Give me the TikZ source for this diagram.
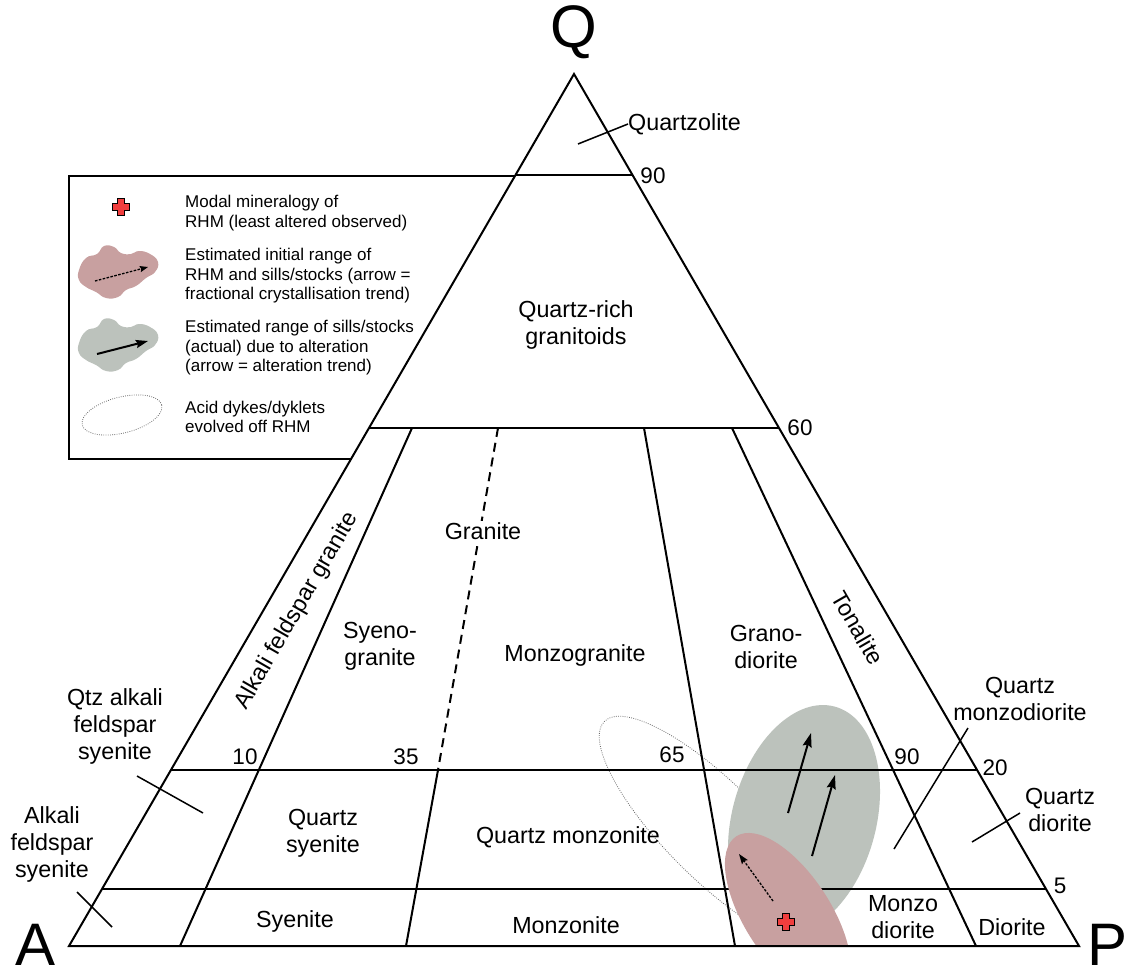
\documentclass[tikz,border=0pt]{standalone}
\usepackage{fontspec}
\setmainfont{Liberation Sans}
\usetikzlibrary{arrows.meta,calc}
\definecolor{altgrey}{RGB}{188,194,188}
\definecolor{initpink}{RGB}{200,160,160}
\definecolor{crossred}{RGB}{240,62,62}
\definecolor{dotgrey}{RGB}{105,105,105}

\begin{document}
\begin{tikzpicture}[x=1pt, y=-1pt,
    field/.style={font=\fontsize{23.3}{27}\selectfont, align=center, inner sep=0pt},
    tick/.style={font=\fontsize{22.5}{27}\selectfont, inner sep=0pt},
    apex/.style={font=\fontsize{60}{60}\selectfont, inner sep=0pt},
    legtext/.style={font=\fontsize{17}{19.5}\selectfont, align=left, anchor=west, inner sep=0pt},
    border/.style={line width=2pt, line join=miter},
    divide/.style={line width=2pt},
    leader/.style={line width=1.5pt},
    trend/.style={line width=2pt, -{Stealth[length=14pt, width=9pt, inset=2pt]}},
    fract/.style={line width=1.3pt, dash pattern=on 2.5pt off 1.5pt, -{Stealth[length=10pt, width=7pt, inset=1.5pt]}},
    dykes/.style={draw=dotgrey, line width=0.8pt, dash pattern=on 0.8pt off 1.4pt},
    redcross/.pic={\filldraw[fill=crossred, draw=black, line width=1.1pt]
      (-3.2,-8.5) -- (3.2,-8.5) -- (3.2,-3.2) -- (8.5,-3.2) -- (8.5,3.2) -- (3.2,3.2) -- (3.2,8.5)
      -- (-3.2,8.5) -- (-3.2,3.2) -- (-8.5,3.2) -- (-8.5,-3.2) -- (-3.2,-3.2) -- cycle;}]
  \useasboundingbox (0,0) rectangle (1129,974);

  % legend (its right part runs under the triangle)
  \draw[line width=1.3pt] (69,176) rectangle (530,459);
  \pic at (121,207) {redcross};
  \node[legtext] (leg1) at (185,213) {Modal mineralogy of\\RHM (least altered observed)};
  \fill[initpink] plot[smooth cycle, tension=0.8] coordinates {(79,270) (86,258) (97,254) (104,246) (114,247)
    (121,253) (131,254) (139,251) (150,254) (158,262) (155,272) (146,278) (136,286) (126,290) (118,297)
    (106,298) (96,292) (86,287) (79,280)};
  \coordinate (lf1) at (95,281);
  \coordinate (lf2) at (148,267);
  \draw[fract, -{Stealth[length=8pt, width=6pt, inset=1pt]}] (lf1) -- (lf2);
  \node[legtext] (leg2) at (185,276) {Estimated initial range of\\RHM and sills/stocks (arrow =\\fractional crystallisation trend)};
  \fill[altgrey] plot[smooth cycle, tension=0.8] coordinates {(79,343) (86,331) (97,327) (104,319) (114,320)
    (121,326) (131,327) (139,324) (150,327) (158,335) (155,345) (146,351) (136,359) (126,363) (118,370)
    (106,371) (96,365) (86,360) (79,353)};
  \coordinate (la1) at (97,354);
  \coordinate (la2) at (148,341);
  \draw[line width=2pt, -{Stealth[length=12pt, width=8pt, inset=1.5pt]}] (la1) -- (la2);
  \node[legtext] (leg3) at (185,348) {Estimated range of sills/stocks\\(actual) due to alteration\\(arrow = alteration trend)};
  \draw[dykes, rotate around={14:(122,415)}] (122,415) ellipse (41 and 18);
  \node[legtext] (leg4) at (185,417) {Acid dykes/dyklets\\evolved off RHM};

  % QAP triangle
  \coordinate (A) at (69,946);
  \coordinate (P) at (1079,946);
  \coordinate (Q) at (574,74);
  \fill[white] (A) -- (P) -- (Q) -- cycle;

  % fields of the samples
  \draw[dykes, rotate around={-45:(714,831)}] (714,831) ellipse (155 and 48);
  \fill[altgrey, rotate around={74.8:(804,820)}] (804,820) ellipse (117.5 and 72);

  % Q levels 90, 60, 20, 5
  \draw[divide] ($(A)!0.8842!(Q)$) -- ($(P)!0.8842!(Q)$);
  \draw[divide] ($(A)!0.594!(Q)$) -- ($(P)!0.594!(Q)$);
  \draw[divide] ($(A)!0.2018!(Q)$) -- ($(P)!0.2018!(Q)$);
  \draw[divide] ($(A)!0.0654!(Q)$) -- ($(P)!0.0654!(Q)$);

  % P/(A+P) ratios 10, 35, 65, 90
  \coordinate (r10t) at (412,428);
  \coordinate (r10b) at (180,946);
  \coordinate (r35t) at (498,428);
  \coordinate (r35m) at (438,770);
  \coordinate (r35b) at (406,946);
  \coordinate (r65t) at (644,428);
  \coordinate (r65b) at (735,946);
  \coordinate (r90t) at (732,428);
  \coordinate (r90b) at (976,946);
  \draw[divide] (r10t) -- (r10b);
  \draw[line width=2pt, dash pattern=on 9pt off 6pt] (r35t) -- (r35m);
  \draw[divide] (r35m) -- (r35b);
  \draw[divide] (r65t) -- (r65b);
  \draw[divide] (r90t) -- (r90b);

  \begin{scope}
    \clip (A) -- (P) -- (Q) -- cycle;
    \fill[initpink, rotate around={-57:(788,916)}] (788,916) ellipse (95 and 43);
  \end{scope}
  \draw[border] (A) -- (P) -- (Q) -- cycle;

  % trends
  \coordinate (fc1) at (773,901);
  \coordinate (fc2) at (739,854);
  \draw[fract] (fc1) -- (fc2);
  \coordinate (al1) at (788,813);
  \coordinate (al2) at (811,733);
  \coordinate (al3) at (812,856);
  \coordinate (al4) at (835,775);
  \draw[trend] (al1) -- (al2);
  \draw[trend] (al3) -- (al4);
  \pic at (786,922) {redcross};

  % apices
  \node[apex] (qv) at (574,32) {Q};
  \node[apex] (av) at (36,945) {A};
  \node[apex] (pv) at (1107,945) {P};

  % ticks
  \node[tick] (t90q) at (653,176) {90};
  \node[tick] (t60q) at (800,428) {60};
  \node[tick] (t20q) at (995,768) {20};
  \node[tick] (t5q) at (1060,886) {5};
  \node[tick] (t10) at (245,757) {10};
  \node[tick] (t35) at (406,757) {35};
  \node[tick] (t65) at (672,755) {65};
  \node[tick] (t90) at (907,757) {90};

  % field names
  \node[field, anchor=west] (quartzolite) at (628,124) {Quartzolite};
  \coordinate (qzl) at (578,144);
  \draw[leader] (qzl) -- (quartzolite.west);
  \node[field] (qrich) at (576,325) {Quartz-rich\\granitoids};
  \node[field, rotate=60] (afgr) at (297,611) {Alkali feldspar granite};
  \node[field, fill=white, inner sep=1pt] (granite) at (483,531) {Granite};
  \node[field] (syenogr) at (380,646) {Syeno-\\granite};
  \node[field] (monzogr) at (575,655) {Monzogranite};
  \node[field] (granodi) at (766,647) {Grano-\\diorite};
  \node[field, rotate=-60] (tonalite) at (858,628) {Tonalite};
  \node[field] (qafsy) at (115,726) {Qtz alkali\\feldspar\\syenite};
  \node[field] (afsy) at (52,844) {Alkali\\feldspar\\syenite};
  \node[field] (qsy) at (323,833) {Quartz\\syenite};
  \node[field] (qmz) at (568,837) {Quartz monzonite};
  \node[field] (qmzd) at (1020,699) {Quartz\\monzodiorite};
  \node[field] (qdi) at (1060,810) {Quartz\\diorite};
  \node[field] (syenite) at (295,921) {Syenite};
  \node[field] (monzonite) at (566,925) {Monzonite};
  \node[field] (monzodi) at (903,917) {Monzo\\diorite};
  \node[field] (diorite) at (1012,927) {Diorite};

  % pointers to narrow fields
  \coordinate (qaf1) at (137,776);
  \coordinate (qaf2) at (203,813);
  \coordinate (af1) at (77,892);
  \coordinate (af2) at (112,927);
  \coordinate (qmd1) at (894,849);
  \coordinate (qmd2) at (968,728);
  \coordinate (qd1) at (972,842);
  \coordinate (qd2) at (1020,813);
  \draw[leader] (qaf1) -- (qaf2);
  \draw[leader] (af1) -- (af2);
  \draw[leader] (qmd1) -- (qmd2);
  \draw[leader] (qd1) -- (qd2);
\end{tikzpicture}
\end{document}
